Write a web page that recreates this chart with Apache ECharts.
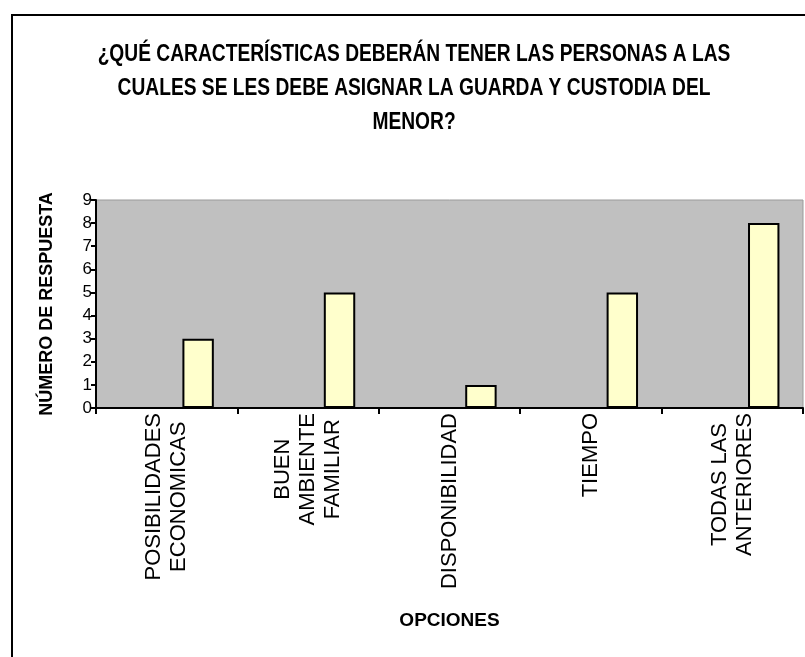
<!DOCTYPE html>
<html>
<head>
<meta charset="utf-8">
<script src="https://cdn.jsdelivr.net/npm/echarts@6/dist/echarts.min.js"></script>
<style>
  html, body { margin: 0; padding: 0; background: #fff; }
  #chart { width: 805px; height: 657px; }
</style>
</head>
<body>
<div id="chart"></div>
<script>
// datos
const opciones = ['POSIBILIDADES\nECONOMICAS', 'BUEN\nAMBIENTE\nFAMILIAR', 'DISPONIBILIDAD', 'TIEMPO', 'TODAS LAS\nANTERIORES'];
const respuestas = [3, 5, 1, 5, 8];
const titulo = '¿QUÉ CARACTERÍSTICAS DEBERÁN TENER LAS PERSONAS A LAS\nCUALES SE LES DEBE ASIGNAR LA GUARDA Y CUSTODIA DEL\nMENOR?';
const yMin = 0, yMax = 9, yStep = 1;

const arial = '"Liberation Sans", Arial, sans-serif';

let chart = echarts.init(document.getElementById('chart'));

chart.setOption({
  animation: false,
  backgroundColor: '#fff',
  graphic: [
    {
      // marco exterior
      type: 'rect',
      shape: { x: 12, y: 15, width: 830, height: 700 },
      style: { fill: 'none', stroke: '#000', lineWidth: 2 }
    },
    {
      // titulo en fuente estrecha (arial narrow no esta, se comprime)
      type: 'text',
      x: 414,
      y: 38,
      scaleX: 0.835,
      style: {
        text: titulo,
        fontFamily: arial,
        fontWeight: 'bold',
        fontSize: 23,
        lineHeight: 34,
        fill: '#000',
        align: 'center',
        verticalAlign: 'top'
      }
    }
  ],
  grid: {
    left: 96,
    top: 200,
    right: 2,
    bottom: 249,
    show: true,
    backgroundColor: '#c0c0c0',
    borderColor: '#9a9a9a',
    borderWidth: 1
  },
  xAxis: {
    type: 'category',
    data: opciones,
    name: 'OPCIONES',
    nameLocation: 'middle',
    nameGap: 203,
    nameTextStyle: { fontFamily: arial, fontWeight: 'bold', fontSize: 19, color: '#000' },
    axisLine: { lineStyle: { color: '#000', width: 2 } },
    axisTick: { show: true, length: 6, lineStyle: { color: '#000', width: 2 } },
    axisLabel: {
      interval: 0,
      rotate: 90,
      margin: 5,
      color: '#000',
      fontFamily: arial,
      fontSize: 22,
      lineHeight: 25,
      // lineas centradas entre si
      formatter: v => v.split('\n').map(s => '{c|' + s + '}').join('\n'),
      rich: { c: { align: 'center', fontFamily: arial, fontSize: 22, lineHeight: 25, color: '#000' } }
    }
  },
  yAxis: {
    type: 'value',
    min: yMin,
    max: yMax,
    interval: yStep,
    name: 'NÚMERO DE RESPUESTA',
    nameLocation: 'middle',
    nameGap: 40,
    nameTextStyle: { fontFamily: arial, fontWeight: 'bold', fontSize: 18, color: '#000' },
    axisLine: { show: true, lineStyle: { color: '#000', width: 2 } },
    axisTick: { show: true, length: 5, lineStyle: { color: '#000', width: 2 } },
    axisLabel: { color: '#000', fontFamily: arial, fontSize: 17, margin: 4 },
    splitLine: { show: false }
  },
  // excel tenia tres series, solo la tercera con datos
  series: [
    { type: 'bar', name: 's1', data: [] },
    { type: 'bar', name: 's2', data: [] },
    {
      type: 'bar',
      name: 'respuestas',
      data: respuestas,
      barGap: '0%',
      barCategoryGap: '33.33%',
      itemStyle: { color: '#ffffcc', borderColor: '#000', borderWidth: 2 }
    }
  ]
});
</script>
</body>
</html>
